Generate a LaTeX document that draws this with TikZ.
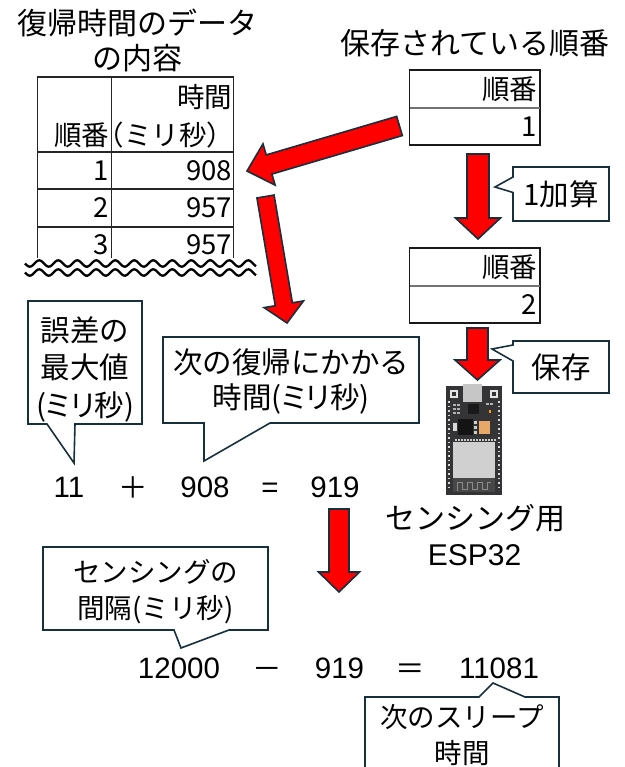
\documentclass[tikz,border=0pt]{standalone}
\usepackage{fontspec}
\setmainfont{Noto Sans CJK JP}
\newfontfamily\latinsans{Liberation Sans}
\newfontfamily\propfont[RawFeature=+palt]{Noto Sans CJK JP}
\newcommand\narrowkana[1]{{\propfont #1}}
\usetikzlibrary{calc}

\definecolor{arrowred}{RGB}{255,0,0}
\definecolor{outlinenavy}{RGB}{22,48,62}
\definecolor{boardgray}{RGB}{52,52,54}
\definecolor{shieldgray}{RGB}{208,208,208}
\definecolor{padorange}{RGB}{232,168,104}

\tikzset{
  txt/.style={inner sep=0pt, outer sep=0pt},
  big/.style={txt, text height=26.4pt, text depth=3.6pt, font=\fontsize{30}{34}\selectfont},
  cell/.style={txt, text height=24.2pt, text depth=3.3pt, font=\fontsize{27.5}{31}\selectfont, anchor=east},
  note/.style={txt, text height=26pt, text depth=3.5pt, font=\fontsize{29.5}{33}\selectfont},
  smallnote/.style={txt, text height=24.2pt, text depth=3.3pt, font=\fontsize{27.5}{31}\selectfont},
  num/.style={txt, text height=25pt, text depth=3.5pt, font=\latinsans\fontsize{29.5}{33}\selectfont},
  sym/.style={txt, text height=26pt, text depth=3.5pt, font=\fontsize{29.5}{33}\selectfont},
  callout/.style={draw=outlinenavy, fill=white, line width=1.6pt, line join=miter},
  gridline/.style={draw=black!85, line width=1.1pt},
  blockarrowstyle/.style={fill=arrowred, draw=outlinenavy, line width=1.6pt, line join=miter},
  wave/.style={draw=black, line width=2.3pt}
}

% block arrow: start, tip, half shaft width, half head width, head length
\newcommand\blockarrow[5]{%
  \path ($(#2)!#5!(#1)$) coordinate (ba-h);
  \draw[blockarrowstyle]
    ($(#1)!#3!90:(#2)$) -- ($(ba-h)!#3!90:(#2)$) -- ($(ba-h)!#4!90:(#2)$)
    -- (#2)
    -- ($(ba-h)!#4!-90:(#2)$) -- ($(ba-h)!#3!-90:(#2)$) -- ($(#1)!#3!-90:(#2)$) -- cycle;
}

\begin{document}
\begin{tikzpicture}[x=1pt,y=-1pt]
\useasboundingbox (0,0) rectangle (624,767);

% ---------- headings ----------
\node[big] (title1) at (137,23) {復帰時間のデータ};
\node[big] (title2) at (137,58) {の内容};
\node[big] (storedtitle) at (475,43) {保存されている順番};

% ---------- recovery time table ----------
\draw[gridline] (37,77) -- (234,77);
\draw[gridline] (37,152) -- (234,152);
\draw[gridline] (37,189) -- (234,189);
\draw[gridline] (37,227) -- (234,227);
\draw[gridline] (37.5,77) -- (37.5,264);
\draw[gridline] (111.5,77) -- (111.5,264);
\draw[gridline] (233.5,77) -- (233.5,264);

\node[cell] (hdrtime) at (232,97) {時間};
\node[cell] (hdrorder) at (109,135) {順番};
\node[cell] (hdrms) at (234,135) {（ミリ秒）};
\node[cell] (r1a) at (109,170) {1};
\node[cell] (r1b) at (232,170) {908};
\node[cell] (r2a) at (109,207) {2};
\node[cell] (r2b) at (232,207) {957};
\node[cell] (r3a) at (109,244) {3};
\node[cell] (r3b) at (232,244) {957};

% break marks under the table
\fill[white] (25,258) rectangle (257,277);
\draw[wave] plot[domain=25:256, samples=160] (\x,{263.5+3.2*sin((\x-25)*18.947)});
\draw[wave] plot[domain=25:256, samples=160] (\x,{272.5+3.2*sin((\x-25)*18.947)});

% ---------- stored order boxes ----------
\draw[black!90, line width=1.1pt] (409.5,70) rectangle (540,145);
\draw[black!55, line width=1.4pt] (409.5,108) -- (540,108);
\node[cell] (ordhdr1) at (537,89) {順番};
\node[cell] (ordval1) at (537,126) {1};

\draw[black!90, line width=1.1pt] (409.5,248) rectangle (540,323);
\draw[black!55, line width=1.4pt] (409.5,286) -- (540,286);
\node[cell] (ordhdr2) at (537,267) {順番};
\node[cell] (ordval2) at (537,304) {2};

% ---------- block arrows ----------
\coordinate (a1s) at (478,154);   \coordinate (a1e) at (478,239);
\coordinate (a2s) at (477.5,328); \coordinate (a2e) at (477.5,380);
\coordinate (a3s) at (399.5,126); \coordinate (a3e) at (247,171);
\coordinate (a4s) at (265.5,196.5); \coordinate (a4e) at (287,323);
\coordinate (a5s) at (339,509);   \coordinate (a5e) at (339,592);
\blockarrow{a1s}{a1e}{11pt}{22.5pt}{21pt}
\blockarrow{a2s}{a2e}{10.5pt}{22.5pt}{20pt}
\blockarrow{a3s}{a3e}{10pt}{21.5pt}{23pt}
\blockarrow{a4s}{a4e}{8.7pt}{20pt}{19pt}
\blockarrow{a5s}{a5e}{10pt}{20.5pt}{20pt}

% ---------- callouts on the right ----------
\draw[callout] (513,167) -- (609,167) -- (609,221) -- (513,221) -- (513,192.5)
  -- (495,187) -- (513,177) -- cycle;
\node[note] (addone) at (561,194) {1加算};

\draw[callout] (513,341) -- (609,341) -- (609,393) -- (513,393) -- (513,361)
  -- (492,349) -- (513,345) -- cycle;
\node[note] (save) at (561,367) {保存};

% ---------- ESP32 board ----------
\begin{scope}
  \fill[boardgray] (446,386) rectangle (502,495);
  \fill[shieldgray!95!black] (463,384) rectangle (482,402);
  % mounting holes
  \foreach \hx in {454,494} {
    \fill[white!90!black] (\hx-4,390) rectangle (\hx+4,398);
    \fill[black!80] (\hx-2.2,392.2) rectangle (\hx+2.2,395.8);
  }
  % header pins
  \foreach \py in {401,405.5,...,490} {
    \fill[white!85!black] (448.2,\py) rectangle (450,\py+1.6);
    \fill[white!85!black] (498,\py) rectangle (499.8,\py+1.6);
  }
  % small parts near the top
  \fill[black!90] (468,404) rectangle (479,414);
  \foreach \py in {404,408,412} {
    \fill[white!70!black] (453,\py) rectangle (455.5,\py+1.5);
    \fill[white!70!black] (457,\py) rectangle (459.5,\py+1.5);
  }
  \fill[white!70!black] (486,403) rectangle (488.5,405);
  \fill[white!70!black] (490,403) rectangle (492.5,405);
  \fill[orange!80!yellow] (489,410) rectangle (491,413);
  % regulator and pads
  \fill[black!92] (458,419) rectangle (473,435);
  \foreach \py in {421,426,431} \fill[white!80!black] (474,\py) rectangle (477,\py+2.5);
  \fill[white!85!black] (453,423) rectangle (456.5,431);
  \fill[padorange] (479,421) rectangle (490,434);
  % module pads and shield
  \foreach \px in {455,458,...,494} \fill[white!80!black] (\px,438.5) rectangle (\px+1.5,440.5);
  \fill[shieldgray] (453,442) rectangle (495,478);
  \fill[black!72] (453,478) rectangle (495,492);
  \draw[white!55!black, line width=0.8pt]
    (457,491) -- (457,482) -- (462,482) -- (462,489) -- (467,489) -- (467,482)
    -- (472,482) -- (472,489) -- (477,489) -- (477,482) -- (482,482) -- (482,489)
    -- (487,489) -- (487,482) -- (491,482);
\end{scope}
\node[big] (esplabel1) at (475,518) {センシング用};
\node[num, font=\latinsans\fontsize{30}{34}\selectfont] (esplabel2) at (474.5,555) {ESP32};

% ---------- first calculation ----------
\draw[callout] (28,301) -- (142,301) -- (142,424) -- (75,424) -- (74,463)
  -- (47,424) -- (28,424) -- cycle;
\node[note] (err1) at (85,330) {誤差の};
\node[note] (err2) at (85,367) {最大値};
\node[note] (err3) at (85,405) {(\narrowkana{ミリ}秒)};

\draw[callout] (163,337) -- (419,337) -- (419,423) -- (270,423) -- (204,461)
  -- (204,423) -- (163,423) -- cycle;
\node[note] (next1) at (291,362) {次の復帰にかかる};
\node[note] (next2) at (291,397) {時間(\narrowkana{ミリ}秒)};

\node[num] (e1a) at (69,487) {11};
\node[sym] (e1op) at (133.5,487) {＋};
\node[num] (e1b) at (205,487) {908};
\node[num] (e1eq) at (270,487) {=};
\node[num] (e1c) at (335,487) {919};

% ---------- second calculation ----------
\draw[callout] (43,547) -- (268,547) -- (268,630) -- (229,630) -- (181,648)
  -- (174,630) -- (43,630) -- cycle;
\node[smallnote] (int1) at (155.5,572) {センシングの};
\node[smallnote] (int2) at (155.5,608) {間隔(ミリ秒)};

\node[num] (e2a) at (179,668) {12000};
\node[sym] (e2op) at (267.5,668) {－};
\node[num] (e2b) at (339.5,668) {919};
\node[sym] (e2eq) at (410.5,668) {＝};
\node[num] (e2c) at (499,668) {11081};

\draw[callout] (365,780) -- (365,697) -- (479,697) -- (493,683) -- (525,697)
  -- (559,697) -- (559,780);
\node[smallnote] (sleep1) at (462,717) {次のスリープ};
\node[smallnote] (sleep2) at (462,753) {時間};

\end{tikzpicture}
\end{document}
